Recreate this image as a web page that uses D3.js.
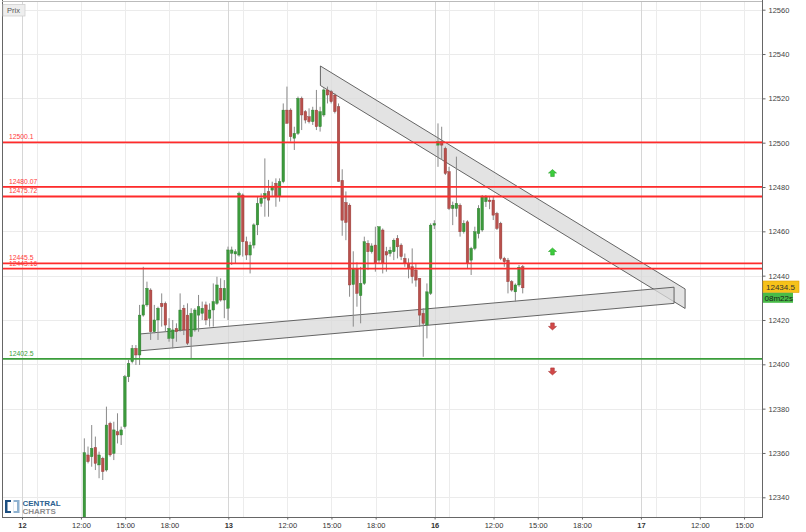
<!DOCTYPE html>
<html><head><meta charset="utf-8">
<script src="https://cdn.jsdelivr.net/npm/d3@7"></script>
<style>body{margin:0;background:#fff;} svg{display:block;font-family:"Liberation Sans",Arial,sans-serif;}</style>
</head><body><svg id="c" width="806" height="532"></svg>
<script>
// ---------- DATA ----------
const sessionDays = ["12", "13", "16", "17"];       // trading sessions 08:00-22:00
const hourTickLabels = ["12:00", "15:00", "18:00"];
const firstBar = { session: 0, time: "12:00" };   // 15-minute candles
const opens = [12328,12359.1,12358.3,12362.5,12354.6,12357.6,12352.3,12373.4,12359.8,12369.6,
12368.1,12371.9,12394.4,12401.2,12407.2,12404.2,12422.2,12426.8,12433.5,12414.7,
12420,12427.5,12427.5,12411.7,12411.7,12416.2,12415.5,12425.3,12422.2,12412.5,
12415.5,12422.2,12423,12426.8,12420.8,12424.5,12427.5,12434.3,12429,12425.3,
12450.1,12449.8,12449.3,12476.4,12455.3,12449.3,12453.8,12462.9,12472.6,12474.9,
12477.9,12478.6,12481.7,12475.6,12482.4,12514.7,12514.7,12502,12504.2,12520,
12514,12511.7,12509.5,12514.7,12507.2,12512.5,12523.8,12523,12521.5,12516.2,
12483,12473,12471.8,12436,12443,12431,12436.5,12454.6,12450.8,12453.8,
12447,12460.6,12450.8,12450,12450.8,12456.8,12453.8,12447.8,12445.5,12444,
12442.5,12438.8,12423,12417.7,12432,12462.8,12498.9,12500.4,12497.4,12486.9,
12470.3,12470.3,12471.8,12459.8,12464.3,12447,12452.3,12459,12460.6,12473.4,
12474.1,12474.1,12468.1,12463.6,12447.8,12447,12437.3,12432.7,12435.8,12444];
const highs = [12366.6,12362.9,12372.6,12367.4,12360.6,12358.3,12380.9,12374.1,12374.1,12377.9,
12371.9,12395.2,12402,12408.7,12408.7,12426.8,12444,12437.3,12434.3,12426.8,
12426,12432,12428.3,12420.8,12420,12418.5,12432,12426.8,12427.5,12425.3,
12425.3,12431.3,12428.3,12428.3,12427.5,12436.5,12439.5,12438.8,12438,12453.1,
12453.1,12451.9,12477.9,12477.1,12457.6,12455.3,12463.6,12475.6,12477.1,12492.9,
12483.2,12482.4,12483.9,12483.9,12517.7,12525.3,12515.5,12507.2,12520.8,12520.8,
12514.7,12515.5,12516.2,12523.8,12516.2,12524.5,12525.3,12523.8,12522.3,12517.7,
12488,12478,12472.6,12451,12446,12444,12457.6,12456,12454.6,12462.1,
12462.1,12461.3,12453,12453,12456.8,12458.3,12454.6,12450,12447.8,12452.3,
12445.5,12438.8,12425.3,12436.5,12463.6,12465,12508.7,12507.2,12498.2,12489.1,
12473.4,12493.7,12472.6,12465,12465,12453,12462.1,12471.8,12476.4,12476.4,
12475.5,12475.6,12468.8,12464.3,12448.5,12448,12438,12436.5,12444.8,12444.8];
const lows = [12325,12355.3,12353.8,12352.3,12348.6,12347.8,12351.6,12358.3,12356.8,12364.3,
12363.6,12371,12392,12400.4,12399.7,12399.7,12421.5,12426,12411,12414,
12411,12417,12414.7,12410.2,12407.2,12410.2,12414.7,12413.2,12408.7,12402.7,
12414.7,12414.7,12420,12417.7,12417,12417,12426.8,12428.3,12420.8,12420,
12444.8,12445.3,12448.6,12448.6,12447.1,12441,12452.3,12458.3,12471.1,12466.6,
12466.6,12475.6,12471.1,12473.4,12481.7,12508.7,12500.5,12496.7,12503.5,12505.7,
12508.7,12508.7,12508,12505.7,12505,12511.7,12517.7,12517.7,12513.2,12482.4,
12458,12456,12430.5,12417,12426,12418.5,12435.8,12442.5,12450,12441.8,
12445.5,12441,12441.8,12448.6,12447,12447.8,12447,12444,12438.8,12436.5,
12435,12417,12403.4,12411.7,12431.3,12461,12489.1,12492.2,12485.4,12469.6,
12462.8,12466.6,12457.6,12459,12443,12440.3,12451.5,12456.8,12459.8,12471,
12470,12465.1,12460.6,12447,12444,12432,12432.8,12428.2,12435,12432];
const closes = [12360.1,12356.1,12362.1,12355.3,12359.1,12351.6,12372.6,12359.1,12370.4,12368.1,
12370.4,12394.4,12400.4,12407.2,12404.2,12422.2,12426.8,12434.3,12414.7,12420,
12425.3,12426,12417.7,12416.2,12415.5,12414.7,12424.5,12415.5,12409.5,12423,
12424.5,12426,12425.3,12420,12424.5,12428.3,12435.8,12429,12434.3,12451.6,
12451.6,12450.8,12477.1,12455.3,12449.3,12453.8,12462.9,12472.6,12474.9,12477.1,
12474.1,12480.4,12475.6,12482.4,12514.7,12508.7,12502.7,12504.2,12520,12512.5,
12510.2,12509.5,12514.7,12507.2,12514,12523.8,12521.5,12518.5,12514,12482.5,
12465,12464,12435.8,12443,12432,12436.5,12455.3,12450.8,12453.4,12445.5,
12462.1,12445.5,12449.3,12451.5,12456,12453,12448.6,12445.5,12443.3,12439.5,
12438,12422.2,12418.5,12432.7,12462.8,12463.5,12500.4,12498.9,12486.1,12470.3,
12471.8,12472.6,12459.8,12463.6,12445.5,12452.3,12459.8,12470.3,12475.6,12475.6,
12473.4,12467.3,12461.3,12447.8,12446.3,12437.3,12433.5,12435.8,12443.8,12434.5];
const priceTicks = [12340,12360,12380,12400,12420,12440,12460,12480,12500,12520,12540,12560];
const levelValues = [12500.1, 12480.07, 12475.72, 12445.5, 12443.16, 12402.5];
const levelLabels = ["12500.1", "12480.07", "12475.72", "12445.5", "12443.16", "12402.5"];
const levelKinds  = ["res", "res", "res", "res", "res", "sup"];
// channel bands: [session, time, upper price, lower price] at each end
const fallingBand = [["13", "14:15", 12534.6, 12525.8], ["17", "11:00", 12434.0, 12425.2]];
const risingBand  = [["12", "16:00", 12413.7, 12406.1], ["17", "10:15", 12434.8, 12427.5]];
const arrowSession = "16", arrowTime = "16:00";
const arrowPrices = [12486.3, 12450.9, 12417.1, 12396.8];
const arrowDirs = ["up", "up", "down", "down"];
const lastPrice = "12434.5", countdown = "08m22s";

// ---------- LAYOUT ----------
const W = 806, H = 532;
const plot = { left: 2, right: 762, top: 2, bottom: 517 };
const SESSION_HOURS = 14, OPEN_HOUR = 8;
const svg = d3.select("#c");

function tHours(session, time) {
  const d = sessionDays.indexOf(session);
  const [h, m] = time.split(":").map(Number);
  return d * SESSION_HOURS + (h - OPEN_HOUR) + m / 60;
}
const x = d3.scaleLinear().domain([0, 4 * SESSION_HOURS]).range([22, 22 + 4 * 206.3]);
const y = d3.scaleLinear().domain([12340, 12560]).range([497.3, 9.7]);

const t0 = tHours(sessionDays[firstBar.session], firstBar.time);
const BAR_OFFSET = 0.23; // hour offset for bar centre
const candles = opens.map((o, i) => ({ o, h: highs[i], l: lows[i], c: closes[i], t: t0 + i * 0.25 }));

svg.append("rect").attr("width", W).attr("height", H).attr("fill", "#fff");
svg.append("defs").append("clipPath").attr("id", "clip").append("rect")
  .attr("x", plot.left).attr("y", plot.top).attr("width", plot.right - plot.left).attr("height", plot.bottom - plot.top);

// grid
const grid = svg.append("g");
grid.selectAll("line.h").data(priceTicks).join("line")
  .attr("x1", plot.left).attr("x2", plot.right).attr("y1", d => Math.round(y(d)) + 0.5).attr("y2", d => Math.round(y(d)) + 0.5)
  .attr("stroke", "#ebebeb").attr("stroke-width", 1);
const xTicks = [];
sessionDays.forEach(d => {
  xTicks.push({ t: tHours(d, "08:00"), label: d, day: true });
  hourTickLabels.forEach(hl => xTicks.push({ t: tHours(d, hl), label: hl, day: false }));
});
const vGrid = [];
sessionDays.forEach(d => {
  vGrid.push({ t: tHours(d, "08:00"), day: true });
  ["09:00", ...hourTickLabels].forEach(hl => vGrid.push({ t: tHours(d, hl), day: false }));
});
grid.selectAll("line.v").data(vGrid.filter(g => x(g.t) < plot.right)).join("line")
  .attr("x1", d => Math.round(x(d.t)) + 0.5).attr("x2", d => Math.round(x(d.t)) + 0.5)
  .attr("y1", plot.top).attr("y2", plot.bottom)
  .attr("stroke", d => d.day ? "#d6d6d6" : "#ececec").attr("stroke-width", 1);

const g = svg.append("g").attr("clip-path", "url(#clip)");

// bands
function bandPoly(b) {
  const ta = tHours(b[0][0], b[0][1]), tb = tHours(b[1][0], b[1][1]);
  return [[x(ta), y(b[0][2])], [x(tb), y(b[1][2])], [x(tb), y(b[1][3])], [x(ta), y(b[0][3])]];
}
[fallingBand, risingBand].forEach(b => {
  g.append("path").attr("d", "M" + bandPoly(b).join("L") + "Z")
    .attr("fill", "#d9d9d9").attr("fill-opacity", 0.75)
    .attr("stroke", "#555").attr("stroke-width", 0.9);
});

// candles
const bw = 2.6;
const cg = g.append("g");
cg.selectAll("line.w").data(candles).join("line")
  .attr("x1", d => x(d.t + BAR_OFFSET)).attr("x2", d => x(d.t + BAR_OFFSET))
  .attr("y1", d => y(d.h)).attr("y2", d => y(d.l))
  .attr("stroke", "#8a8a8a").attr("stroke-width", 1);
cg.selectAll("rect.b").data(candles).join("rect")
  .attr("x", d => x(d.t + BAR_OFFSET) - bw / 2)
  .attr("y", d => y(Math.max(d.o, d.c)))
  .attr("width", bw)
  .attr("height", d => Math.max(1, Math.abs(y(d.o) - y(d.c))))
  .attr("fill", d => d.c >= d.o ? "#3c9a3c" : "#b9504c")
  .attr("stroke", d => d.c >= d.o ? "#2d7a2d" : "#8f3a37").attr("stroke-width", 0.4);

// levels
levelValues.forEach((v, i) => {
  const col = levelKinds[i] === "res" ? "#ff2b2b" : "#3a9d3a";
  g.append("line").attr("x1", plot.left).attr("x2", plot.right).attr("y1", y(v)).attr("y2", y(v))
    .attr("stroke", col).attr("stroke-width", 1.8);
  svg.append("text").attr("x", 9).attr("y", y(v) - 3).attr("font-size", 6.8).attr("fill", levelKinds[i] === "res" ? "#ff3b3b" : "#3a9d3a")
    .text(levelLabels[i]);
});

// arrows
const ax = x(tHours(arrowSession, arrowTime));
arrowPrices.forEach((p, i) => {
  const cy = y(p), up = arrowDirs[i] === "up", s = up ? 1 : -1;
  const pts = [[0, -3.5], [4, 0], [1.8, 0], [1.8, 3.5], [-1.8, 3.5], [-1.8, 0], [-4, 0]]
    .map(([px, py]) => [ax + px, cy + s * py]);
  g.append("path").attr("d", "M" + pts.join("L") + "Z")
    .attr("fill", up ? "#3ccc3c" : "#d24848").attr("stroke", up ? "#2aa12a" : "#a83434").attr("stroke-width", 0.6);
});

// axes frame
svg.append("line").attr("x1", 2.5).attr("x2", 2.5).attr("y1", 0).attr("y2", plot.bottom).attr("stroke", "#666").attr("stroke-width", 1);
svg.append("line").attr("x1", 2).attr("x2", plot.right).attr("y1", 1.5).attr("y2", 1.5).attr("stroke", "#bbb").attr("stroke-width", 1);
svg.append("line").attr("x1", plot.right + 0.5).attr("x2", plot.right + 0.5).attr("y1", 0).attr("y2", plot.bottom + 1).attr("stroke", "#666");
svg.append("line").attr("x1", 2).attr("x2", plot.right + 1).attr("y1", plot.bottom + 0.5).attr("y2", plot.bottom + 0.5).attr("stroke", "#666");

// right axis
const yAxis = d3.axisRight(y).tickValues(priceTicks).tickSize(3).tickPadding(3).tickFormat(d3.format("d"));
const ya = svg.append("g").attr("transform", `translate(${plot.right + 0.5},0)`).call(yAxis);
ya.select(".domain").remove();
ya.selectAll("line").attr("stroke", "#666");
ya.selectAll("text").attr("font-size", 7.5).attr("fill", "#444").attr("font-family", "Liberation Sans, Arial, sans-serif");

// bottom axis
const xa = svg.append("g").attr("transform", `translate(0,${plot.bottom + 0.5})`)
  .call(d3.axisBottom(x).tickValues(xTicks.map(d => d.t).filter(t => x(t) < plot.right)).tickSize(2).tickPadding(3)
    .tickFormat((d, i) => xTicks[i].label));
xa.select(".domain").remove();
xa.selectAll("line").attr("stroke", "#666");
xa.selectAll("text").attr("font-size", 7.5).attr("fill", "#333").attr("font-family", "Liberation Sans, Arial, sans-serif")
  .attr("font-weight", (d, i) => xTicks[i].day ? "bold" : "normal");

// price boxes
svg.append("rect").attr("x", 763).attr("y", 281).attr("width", 36).attr("height", 11.5).attr("fill", "#f6c21a").attr("stroke", "#e0a000").attr("stroke-width", 0.6);
svg.append("text").attr("x", 766).attr("y", 289.6).attr("font-size", 8).attr("fill", "#333").text(lastPrice);
svg.append("rect").attr("x", 763).attr("y", 292.8).attr("width", 30).attr("height", 10).attr("fill", "#48bb48");
svg.append("text").attr("x", 764.5).attr("y", 300.7).attr("font-size", 8).attr("fill", "#1a1a1a").text(countdown);

// Prix label
svg.append("rect").attr("x", 3).attr("y", 4.5).attr("width", 22).attr("height", 11.5).attr("fill", "#eeeeee").attr("stroke", "#cfcfcf").attr("stroke-width", 0.8);
svg.append("text").attr("x", 7).attr("y", 13).attr("font-size", 7.5).attr("fill", "#555").text("Prix");

// logo
const lg = svg.append("g");
lg.append("rect").attr("x", 5).attr("y", 500).attr("width", 6).attr("height", 13).attr("fill", "#1d4f80");
lg.append("rect").attr("x", 7.5).attr("y", 502).attr("width", 3.5).attr("height", 9).attr("fill", "#fff");
lg.append("rect").attr("x", 13.5).attr("y", 500).attr("width", 6).attr("height", 13).attr("fill", "#8fb2d0");
lg.append("rect").attr("x", 13.5).attr("y", 502).attr("width", 3.5).attr("height", 9).attr("fill", "#fff");
lg.append("text").attr("x", 22.5).attr("y", 506.3).attr("font-size", 8).attr("font-weight", "bold").attr("fill", "#2c5f8f").text("CENTRAL");
lg.append("text").attr("x", 22.5).attr("y", 513.8).attr("font-size", 8).attr("font-weight", "bold").attr("fill", "#8d8d8d").text("CHARTS");
</script></body></html>
